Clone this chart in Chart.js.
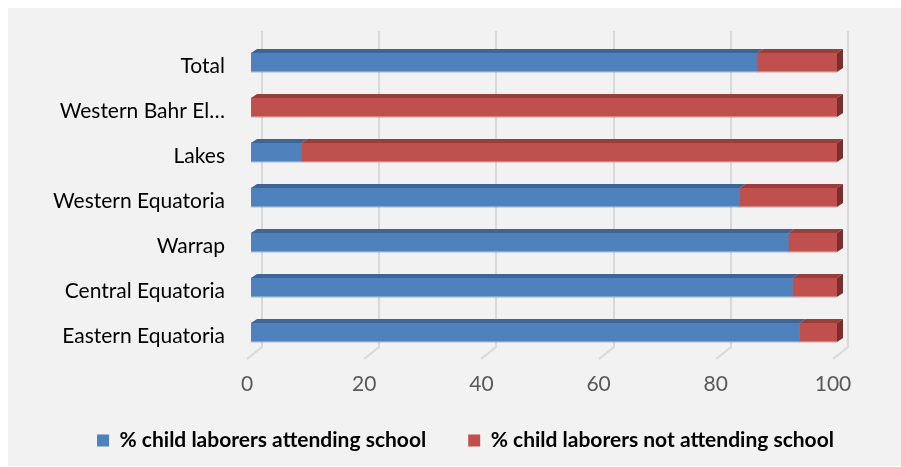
<!DOCTYPE html>
<html>
<head>
<meta charset="utf-8">
<script src="https://cdn.jsdelivr.net/npm/chart.js@4/dist/chart.umd.min.js"></script>
<style>
  html, body { margin: 0; padding: 0; background: #fff; }
</style>
</head>
<body>
<canvas id="chart" width="901" height="467"></canvas>
<script>
const regions = ['Total', 'Western Bahr El…', 'Lakes', 'Western Equatoria', 'Warrap', 'Central Equatoria', 'Eastern Equatoria']
const attending = [86.4, 0, 8.6, 83.4, 91.7, 92.4, 93.6]
const notAttending = [13.6, 100, 91.4, 16.6, 8.3, 7.6, 6.4]
const xMin = 0
const xMax = 100
const xStep = 20

const FONT = 'Lato, "Open Sans", sans-serif'

// gray panel behind everything
const panel = {
  id: 'panel',
  beforeDraw (chart) {
    const ctx = chart.ctx
    ctx.save()
    ctx.fillStyle = '#ffffff'
    ctx.fillRect(0, 0, chart.width, chart.height)
    ctx.fillStyle = '#f2f2f2'
    ctx.fillRect(8, 8, chart.width - 8, chart.height - 9)
    ctx.restore()
  }
}

// legend sits a bit right of the canvas centre and slightly higher
const legendNudge = {
  id: 'legendNudge',
  afterLayout (chart) {
    const lg = chart.legend
    lg.left += 47
    lg.right += 47
    lg.top -= 6
    lg.bottom -= 6
  }
}

// back wall gridlines + slanted floor lines
const walls = {
  id: 'walls',
  beforeDatasetsDraw (chart) {
    const ctx = chart.ctx
    const x = chart.scales.x
    const area = chart.chartArea
    ctx.save()
    ctx.strokeStyle = '#d9d9d9'
    ctx.lineWidth = 2
    x.ticks.forEach(t => {
      const px = Math.round(x.getPixelForValue(t.value))
      ctx.beginPath()
      ctx.moveTo(px + 11, area.top - 9)
      ctx.lineTo(px + 11, area.bottom - 8)
      ctx.lineTo(px - 4, area.bottom + 4)
      ctx.stroke()
    })
    ctx.restore()
  }
}

// fake depth: top faces on every segment, end cap on the last one
const depth = {
  id: 'depth',
  afterDatasetsDraw (chart) {
    const ctx = chart.ctx
    const dx = 6
    const dy = 4
    const tops = ['#3e6594', '#983e3b']
    const sides = ['#36587f', '#7b2f2d']
    const last = chart.data.datasets.length - 1
    ctx.save()
    chart.data.datasets.forEach((ds, di) => {
      const meta = chart.getDatasetMeta(di)
      meta.data.forEach(bar => {
        const x0 = Math.min(bar.base, bar.x)
        const x1 = Math.max(bar.base, bar.x)
        if (x1 - x0 < 0.5) return
        const yt = bar.y - bar.height / 2
        const yb = bar.y + bar.height / 2
        ctx.fillStyle = tops[di]
        ctx.beginPath()
        ctx.moveTo(x0, yt)
        ctx.lineTo(x0 + dx, yt - dy)
        ctx.lineTo(x1 + dx, yt - dy)
        ctx.lineTo(x1, yt)
        ctx.closePath()
        ctx.fill()
        // soft light edge along the bottom of the front face
        ctx.fillStyle = 'rgba(255,255,255,0.3)'
        ctx.fillRect(x0, yb - 1, x1 - x0, 1)
        if (di === last) {
          ctx.fillStyle = sides[di]
          ctx.beginPath()
          ctx.moveTo(x1, yt)
          ctx.lineTo(x1 + dx, yt - dy)
          ctx.lineTo(x1 + dx, yb - dy)
          ctx.lineTo(x1, yb)
          ctx.closePath()
          ctx.fill()
        }
      })
    })
    ctx.restore()
  }
}

new Chart(document.getElementById('chart'), {
  type: 'bar',
  data: {
    labels: regions,
    datasets: [{
      label: '% child laborers attending school',
      data: attending,
      backgroundColor: '#4f81bd',
      borderWidth: 0,
      barThickness: 19
    }, {
      label: '% child laborers not attending school',
      data: notAttending,
      backgroundColor: '#c0504d',
      borderWidth: 0,
      barThickness: 19
    }]
  },
  options: {
    indexAxis: 'y',
    responsive: false,
    animation: false,
    layout: {
      padding: { top: 40, left: 0, right: 64, bottom: 0 }
    },
    scales: {
      x: {
        stacked: true,
        min: xMin,
        max: xMax,
        grid: { display: false, drawTicks: false },
        border: { display: false },
        ticks: {
          stepSize: xStep,
          color: '#595959',
          font: { family: FONT, size: 21 },
          padding: 17,
          labelOffset: -4
        },
        afterFit (scale) { scale.height = 39 }
      },
      y: {
        stacked: true,
        grid: { display: false, drawTicks: false },
        border: { display: false },
        ticks: {
          color: '#000000',
          font: { family: FONT, size: 21 },
          padding: 26,
          labelOffset: 4
        },
        afterFit (scale) { scale.width = 251 }
      }
    },
    plugins: {
      legend: {
        position: 'bottom',
        labels: {
          boxWidth: 12,
          boxHeight: 12,
          padding: 42,
          color: '#000000',
          font: { family: FONT, size: 21, weight: 'bold' }
        }
      },
      tooltip: { enabled: false }
    }
  },
  plugins: [panel, legendNudge, walls, depth]
})
</script>
</body>
</html>
